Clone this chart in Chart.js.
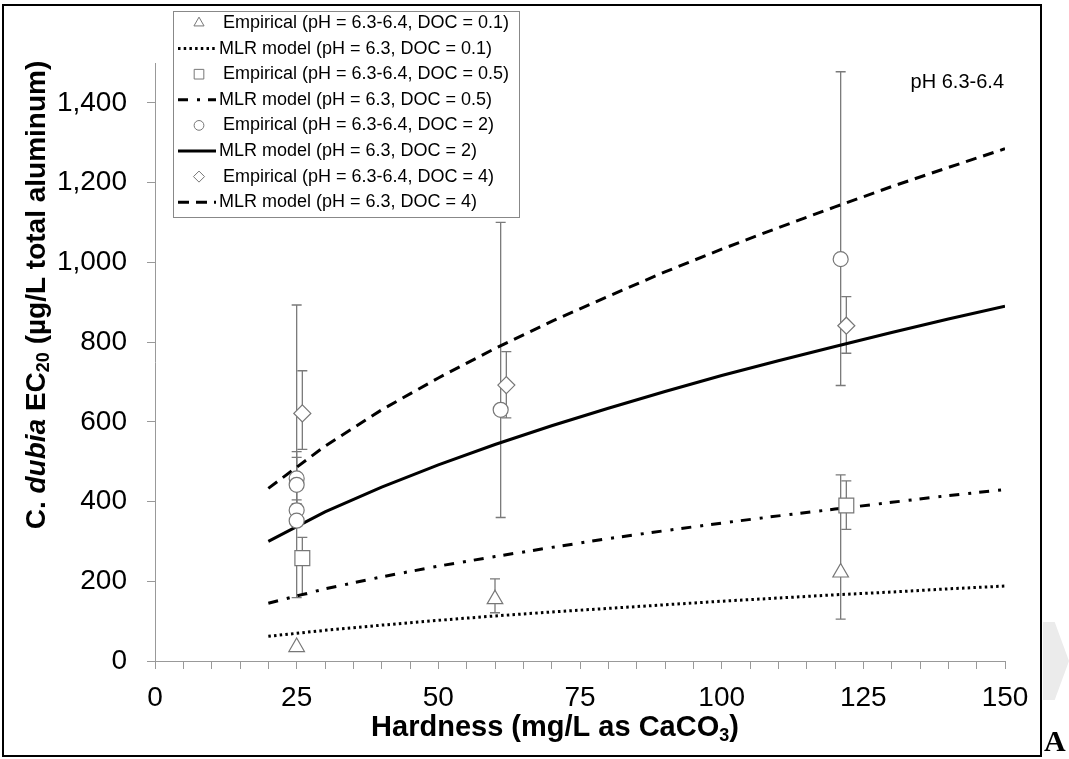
<!DOCTYPE html>
<html>
<head>
<meta charset="utf-8">
<script src="https://cdn.jsdelivr.net/npm/chart.js@4.4.0/dist/chart.umd.min.js"></script>
<style>
  html, body { margin: 0; padding: 0; background: #fff; }
  #wrap { position: relative; width: 1069px; height: 759px; overflow: hidden; }
  #chart { position: absolute; left: 0; top: 0; }
  #frame { position: absolute; left: 2px; top: 4px; width: 1036px; height: 749px; border: 2px solid #000; pointer-events: none; }
  #tag { position: absolute; left: 1044px; top: 724px; font: bold 30px "Liberation Serif", serif; color: #000; }
  #curl { position: absolute; left: 1043px; top: 622px; width: 26px; height: 78px; background: #ebebeb;
          clip-path: polygon(0 0, 45% 0, 100% 50%, 45% 100%, 0 100%); }
</style>
</head>
<body>
<div id="wrap">
  <canvas id="chart" width="1069" height="759"></canvas>
  <div id="frame"></div>
  <div id="curl"></div>
  <div id="tag">A</div>
</div>
<script>
// MLR model curves (at these hardness values)
const hardness = [20, 30, 40, 50, 60, 70, 80, 90, 100, 110, 120, 130, 140, 150];
const mlrDoc01 = [62, 77, 90, 102, 113, 123, 132, 141, 150, 158, 166, 173, 181, 188];
const mlrDoc05 = [145, 181, 211, 238, 262, 285, 307, 327, 346, 364, 381, 398, 415, 430];
const mlrDoc2 = [300, 374, 436, 492, 543, 590, 634, 676, 716, 753, 789, 824, 858, 890];
const mlrDoc4 = [433, 539, 630, 710, 784, 852, 915, 976, 1033, 1087, 1139, 1190, 1238, 1285];

// Empirical EC20 values with error bar ends
const empDoc01X = [25, 60, 121];
const empDoc01Y = [35, 155, 222];
const empDoc01Lo = [null, 121, 105];
const empDoc01Hi = [null, 206, 467];

const empDoc05X = [26, 122];
const empDoc05Y = [258, 390];
const empDoc05Lo = [166, 330];
const empDoc05Hi = [310, 452];

const empDoc2X = [25, 25, 25, 25, 61, 121];
const empDoc2Y = [458, 442, 378, 352, 630, 1008];
const empDoc2Lo = [395, 380, 340, 159, 360, 691];
const empDoc2Hi = [525, 511, 404, 893, 1100, 1478];

const empDoc4X = [26, 62, 122];
const empDoc4Y = [621, 692, 841];
const empDoc4Lo = [531, 610, 772];
const empDoc4Hi = [728, 776, 914];

const xTicksMajor = 25;
const yTickStep = 200;

const FONT = '"Liberation Sans", Arial, sans-serif';

function toPoints(xs, ys) {
  return xs.map((x, i) => ({ x: x, y: ys[i] }));
}

function empirical(label, xs, ys, lo, hi, style, radius) {
  return {
    label: label,
    data: toPoints(xs, ys),
    errLo: lo,
    errHi: hi,
    showLine: false,
    pointStyle: style,
    pointRadius: radius,
    legendRadius: radius * 0.65,
    pointBackgroundColor: "#fff",
    pointBorderColor: "#777",
    pointBorderWidth: 1.2,
    order: 1,
  };
}

function model(label, ys, dash) {
  return {
    label: label,
    data: toPoints(hardness, ys),
    showLine: true,
    borderColor: "#000",
    borderWidth: 3,
    borderDash: dash,
    pointRadius: 0,
    fill: false,
    order: 2,
  };
}

// Error bars drawn under the markers
const errorBars = {
  id: "errorBars",
  beforeDatasetsDraw(chart) {
    const { ctx, scales: { x, y } } = chart;
    ctx.save();
    ctx.strokeStyle = "#7a7a7a";
    ctx.lineWidth = 1.3;
    chart.data.datasets.forEach((ds) => {
      if (!ds.errLo) return;
      ds.data.forEach((p, i) => {
        if (ds.errLo[i] == null) return;
        const px = x.getPixelForValue(p.x);
        const y1 = y.getPixelForValue(ds.errLo[i]);
        const y2 = y.getPixelForValue(ds.errHi[i]);
        ctx.beginPath();
        ctx.moveTo(px, y1);
        ctx.lineTo(px, y2);
        ctx.moveTo(px - 5, y1);
        ctx.lineTo(px + 5, y1);
        ctx.moveTo(px - 5, y2);
        ctx.lineTo(px + 5, y2);
        ctx.stroke();
      });
    });
    ctx.restore();
  },
};

function drawRich(ctx, parts, cx, cy, angle) {
  ctx.save();
  ctx.translate(cx, cy);
  ctx.rotate(angle);
  ctx.textBaseline = "middle";
  ctx.textAlign = "left";
  ctx.fillStyle = "#000";
  let total = 0;
  parts.forEach((p) => {
    ctx.font = p.font;
    total += ctx.measureText(p.text).width;
  });
  let x = -total / 2;
  parts.forEach((p) => {
    ctx.font = p.font;
    ctx.fillText(p.text, x, p.dy || 0);
    x += ctx.measureText(p.text).width;
  });
  ctx.restore();
}

// Axis titles, panel note and legend box
const decorations = {
  id: "decorations",
  afterDraw(chart) {
    const ctx = chart.ctx;
    const b = "bold 28px " + FONT;
    const sub = "bold 18px " + FONT;

    drawRich(ctx, [
      { text: "C. ", font: b },
      { text: "dubia", font: "italic " + b },
      { text: " EC", font: b },
      { text: "20", font: sub, dy: 7 },
      { text: " (µg/L total aluminum)", font: b },
    ], 37, 295, -Math.PI / 2);

    drawRich(ctx, [
      { text: "Hardness (mg/L as CaCO", font: "bold 29px " + FONT },
      { text: "3", font: sub, dy: 8 },
      { text: ")", font: "bold 29px " + FONT },
    ], 555, 728, 0);

    ctx.save();
    ctx.font = "20px " + FONT;
    ctx.fillStyle = "#000";
    ctx.textAlign = "right";
    ctx.textBaseline = "middle";
    ctx.fillText("pH 6.3-6.4", 1004, 82);
    ctx.restore();

    // legend
    const box = { left: 173, top: 11, width: 346, height: 206 };
    ctx.save();
    ctx.fillStyle = "#fff";
    ctx.fillRect(box.left, box.top, box.width, box.height);
    ctx.strokeStyle = "#888";
    ctx.lineWidth = 1;
    ctx.strokeRect(box.left + 0.5, box.top + 0.5, box.width, box.height);
    ctx.font = "18px " + FONT;
    ctx.textBaseline = "middle";
    chart.data.datasets.forEach((ds, i) => {
      const cy = 23 + i * 25.6;
      if (ds.showLine) {
        ctx.strokeStyle = "#000";
        ctx.lineWidth = ds.borderWidth;
        ctx.setLineDash(ds.borderDash || []);
        ctx.beginPath();
        ctx.moveTo(178, cy);
        ctx.lineTo(216, cy);
        ctx.stroke();
        ctx.setLineDash([]);
        ctx.fillStyle = "#000";
        ctx.fillText(ds.label, 219, cy);
      } else {
        ctx.fillStyle = "#fff";
        ctx.strokeStyle = "#777";
        ctx.lineWidth = 1;
        Chart.helpers.drawPoint(ctx, {
          pointStyle: ds.pointStyle,
          radius: ds.legendRadius,
          rotation: 0,
          borderWidth: 1,
        }, 199, cy);
        ctx.fillStyle = "#000";
        ctx.fillText(ds.label, 223, cy);
      }
    });
    ctx.restore();
  },
};

new Chart(document.getElementById("chart").getContext("2d"), {
  type: "scatter",
  data: {
    datasets: [
      empirical("Empirical (pH = 6.3-6.4, DOC = 0.1)", empDoc01X, empDoc01Y, empDoc01Lo, empDoc01Hi, "triangle", 9),
      model("MLR model (pH = 6.3, DOC = 0.1)", mlrDoc01, [2.5, 3.2]),
      empirical("Empirical (pH = 6.3-6.4, DOC = 0.5)", empDoc05X, empDoc05Y, empDoc05Lo, empDoc05Hi, "rect", 10.5),
      model("MLR model (pH = 6.3, DOC = 0.5)", mlrDoc05, [10, 9, 3, 8]),
      empirical("Empirical (pH = 6.3-6.4, DOC = 2)", empDoc2X, empDoc2Y, empDoc2Lo, empDoc2Hi, "circle", 7.5),
      model("MLR model (pH = 6.3, DOC = 2)", mlrDoc2, []),
      empirical("Empirical (pH = 6.3-6.4, DOC = 4)", empDoc4X, empDoc4Y, empDoc4Lo, empDoc4Hi, "rectRot", 8.5),
      model("MLR model (pH = 6.3, DOC = 4)", mlrDoc4, [11, 7]),
    ],
  },
  options: {
    responsive: false,
    animation: false,
    layout: { padding: { left: 0, right: 64, top: 63, bottom: 0 } },
    plugins: {
      legend: { display: false },
      tooltip: { enabled: false },
    },
    scales: {
      x: {
        type: "linear",
        min: 0,
        max: 150,
        afterFit: (s) => {
          s.height = 98;
          s.paddingLeft = 0;
          s.paddingRight = 0;
        },
        border: { color: "#999", width: 1 },
        grid: { drawOnChartArea: false, drawTicks: true, tickLength: 8, color: "#999" },
        ticks: {
          stepSize: 5,
          autoSkip: false,
          maxRotation: 0,
          padding: 12,
          color: "#000",
          font: { family: FONT, size: 28 },
          callback: (v) => (v % xTicksMajor === 0 ? v : ""),
        },
      },
      y: {
        type: "linear",
        min: 0,
        max: 1500,
        afterFit: (s) => {
          s.width = 155;
          s.paddingTop = 0;
          s.paddingBottom = 0;
        },
        border: { color: "#999", width: 1 },
        grid: { drawOnChartArea: false, drawTicks: true, tickLength: 8, color: "#999" },
        ticks: {
          stepSize: yTickStep,
          includeBounds: false,
          padding: 20,
          color: "#000",
          font: { family: FONT, size: 28 },
          callback: (v) => v.toLocaleString("en-US"),
        },
      },
    },
  },
  plugins: [errorBars, decorations],
});
</script>
</body>
</html>
